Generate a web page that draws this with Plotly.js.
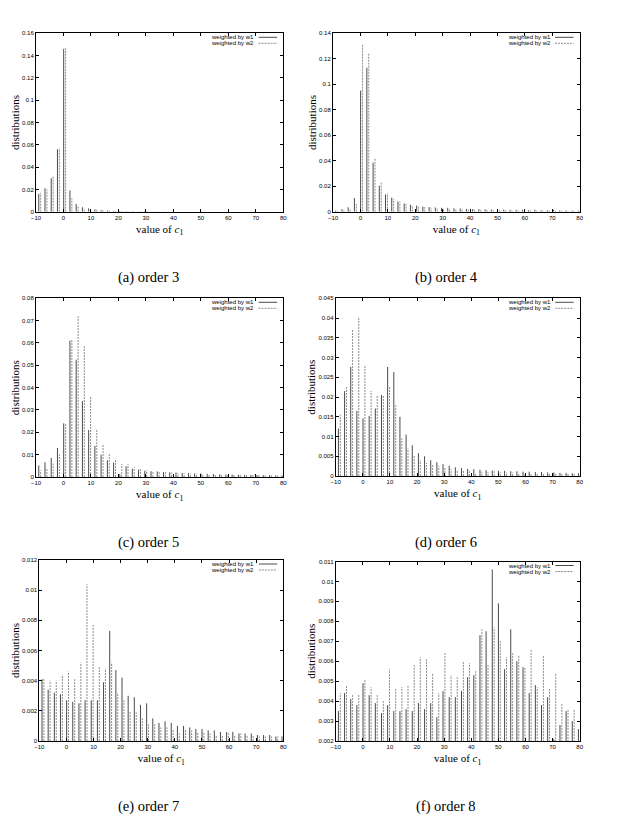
<!DOCTYPE html>
<html>
<head>
<meta charset="utf-8">
<script src="https://cdn.plot.ly/plotly-3.0.1.min.js"></script>
<style>
  html, body { margin: 0; padding: 0; background: #fff; }
  #chart { width: 618px; height: 824px; }
</style>
</head>
<body>
<div id="chart"></div>
<script>
// c1 bins, shared by all six panels
var c1 = [-9, -6.73, -4.46, -2.19, 0.08, 2.35, 4.62, 6.89, 9.16, 11.43,
          13.7, 15.97, 18.24, 20.51, 22.78, 25.05, 27.32, 29.59, 31.86, 34.13,
          36.4, 38.67, 40.94, 43.21, 45.48, 47.75, 50.02, 52.29, 54.56, 56.83,
          59.1, 61.37, 63.64, 65.91, 68.18, 70.45, 72.72, 74.99, 77.26, 79.53];

// (a) order 3
var o3_w1 = [0.016, 0.021, 0.030, 0.056, 0.146, 0.019, 0.007, 0.004, 0.003, 0.002,
             0.0015, 0.0011, 0.0008, 0.0006, 0.0005, 0.0004, 0.0003, 0.0003, 0.0002, 0.0002,
             0.0002, 0.0001, 0.0001, 0.0001, 0.0001, 0.0001, 0.0001, 0.0001, 0, 0,
             0, 0, 0, 0, 0, 0, 0, 0, 0, 0];
var o3_w2 = [0.017, 0.020, 0.032, 0.057, 0.147, 0.012, 0.005, 0.003, 0.0025, 0.002,
             0.0012, 0.0009, 0.0007, 0.0005, 0.0004, 0.0003, 0.0003, 0.0002, 0.0002, 0.0001,
             0.0001, 0.0001, 0.0001, 0.0001, 0, 0, 0, 0, 0, 0,
             0, 0, 0, 0, 0, 0, 0, 0, 0, 0];

// (b) order 4
var o4_w1 = [0.001, 0.002, 0.0035, 0.0107, 0.095, 0.113, 0.0385, 0.0204, 0.0135, 0.011,
             0.008, 0.0065, 0.0055, 0.0048, 0.004, 0.0036, 0.0033, 0.003, 0.0031, 0.0027,
             0.0025, 0.0022, 0.0021, 0.002, 0.0018, 0.0017, 0.0016, 0.0016, 0.0014, 0.0014,
             0.0013, 0.0012, 0.0015, 0.0011, 0.0011, 0.0014, 0.001, 0.0009, 0.0009, 0.0008];
var o4_w2 = [0.0005, 0.001, 0.002, 0.006, 0.131, 0.124, 0.042, 0.0233, 0.0145, 0.010,
             0.0078, 0.006, 0.005, 0.0045, 0.0036, 0.0032, 0.0028, 0.0025, 0.0023, 0.002,
             0.0019, 0.0017, 0.0016, 0.0014, 0.0013, 0.0012, 0.0012, 0.0011, 0.001, 0.001,
             0.0009, 0.0009, 0.0008, 0.0008, 0.0008, 0.0007, 0.0007, 0.0006, 0.0006, 0.0006];

// (c) order 5
var o5_w1 = [0.0052, 0.0066, 0.0085, 0.013, 0.024, 0.061, 0.0525, 0.034, 0.021, 0.014,
             0.010, 0.0075, 0.0065, 0.0013, 0.0048, 0.0037, 0.0033, 0.0028, 0.0026, 0.0025,
             0.0022, 0.0021, 0.002, 0.0018, 0.0017, 0.0016, 0.0016, 0.0014, 0.0013, 0.0012,
             0.0011, 0.0011, 0.001, 0.001, 0.0009, 0.0009, 0.0008, 0.0008, 0.0007, 0.0007];
var o5_w2 = [0.003, 0.0039, 0.006, 0.010, 0.024, 0.0615, 0.072, 0.0586, 0.036, 0.0215,
             0.0148, 0.0103, 0.0082, 0.0058, 0.0058, 0.0044, 0.0038, 0.003, 0.0027, 0.0025,
             0.0022, 0.002, 0.0018, 0.0017, 0.0016, 0.0015, 0.0014, 0.0013, 0.0012, 0.0011,
             0.001, 0.001, 0.0009, 0.0009, 0.0008, 0.0008, 0.0007, 0.0007, 0.0006, 0.0006];

// (d) order 6
var o6_w1 = [0.012, 0.0215, 0.0276, 0.0165, 0.0146, 0.0152, 0.0171, 0.0205, 0.0276, 0.0263,
             0.015, 0.0105, 0.0078, 0.0058, 0.005, 0.004, 0.0035, 0.003, 0.0026, 0.0022,
             0.002, 0.0018, 0.0017, 0.0016, 0.0015, 0.0014, 0.0013, 0.0013, 0.0012, 0.0012,
             0.0011, 0.0011, 0.001, 0.001, 0.0009, 0.0009, 0.0008, 0.0008, 0.0007, 0.0007];
var o6_w2 = [0.0155, 0.0225, 0.037, 0.0403, 0.028, 0.0215, 0.0205, 0.0205, 0.0228, 0.0179,
             0.0095, 0.007, 0.0052, 0.004, 0.0033, 0.003, 0.0025, 0.002, 0.0018, 0.0015,
             0.0014, 0.0012, 0.0008, 0.0011, 0.001, 0.0012, 0.001, 0.0009, 0.0009, 0.0008,
             0.0008, 0.0007, 0.0007, 0.0007, 0.0006, 0.0006, 0.0006, 0.0005, 0.0005, 0.0005];

// (e) order 7
var o7_w1 = [0.0041, 0.0034, 0.0032, 0.0031, 0.0027, 0.0026, 0.0025, 0.0027, 0.0027, 0.0027,
             0.0039, 0.0073, 0.0047, 0.0042, 0.0030, 0.0029, 0.0024, 0.0025, 0.0015, 0.0012,
             0.0013, 0.0012, 0.0010, 0.0010, 0.0009, 0.0008, 0.0008, 0.0007, 0.0007, 0.0006,
             0.0006, 0.0006, 0.0005, 0.0005, 0.0005, 0.0004, 0.0004, 0.0004, 0.0003, 0.0003];
var o7_w2 = [0.0041, 0.0040, 0.0040, 0.0044, 0.0046, 0.0041, 0.0052, 0.0104, 0.0077, 0.0049,
             0.0048, 0.0052, 0.0032, 0.0027, 0.0020, 0.0019, 0.0015, 0.0011, 0.0011, 0.0009,
             0.0009, 0.0008, 0.0005, 0.0008, 0.0007, 0.0006, 0.0006, 0.0005, 0.0004, 0.0004,
             0.0005, 0.0004, 0.0005, 0.0004, 0.0004, 0.0003, 0.0003, 0.0003, 0.0003, 0.0002];

// (f) order 8
var o8_w1 = [0.0035, 0.0044, 0.0041, 0.0038, 0.0049, 0.0043, 0.0039, 0.0034, 0.0038, 0.0035,
             0.0035, 0.0036, 0.0035, 0.0039, 0.0036, 0.0039, 0.0032, 0.0045, 0.0042, 0.0042,
             0.0045, 0.0052, 0.0053, 0.0073, 0.0075, 0.0106, 0.0089, 0.0056, 0.0076, 0.0060,
             0.0057, 0.0044, 0.0048, 0.0038, 0.0042, 0.0021, 0.0028, 0.0035, 0.0030, 0.0026];
var o8_w2 = [0.0044, 0.00475, 0.0043, 0.0043, 0.0051, 0.0047, 0.0043, 0.0040, 0.0056, 0.0046,
             0.0047, 0.0048, 0.0058, 0.0062, 0.0061, 0.0054, 0.0044, 0.0064, 0.0053, 0.0052,
             0.0060, 0.0059, 0.0055, 0.0076, 0.0058, 0.0077, 0.0070, 0.0062, 0.0064, 0.0063,
             0.0057, 0.0066, 0.0047, 0.0063, 0.0046, 0.0054, 0.0039, 0.0036, 0.0036, 0.0030];

var captions = ['(a) order 3', '(b) order 4', '(c) order 5', '(d) order 6', '(e) order 7', '(f) order 8'];
var series = [[o3_w1, o3_w2], [o4_w1, o4_w2], [o5_w1, o5_w2],
              [o6_w1, o6_w2], [o7_w1, o7_w2], [o8_w1, o8_w2]];
var yMin = [0, 0, 0, 0, 0, 0.002];
var yMax = [0.16, 0.14, 0.08, 0.045, 0.012, 0.011];
var yStep = [0.02, 0.02, 0.01, 0.005, 0.002, 0.001];

var W = 618, H = 824;
// plot frames in pixels: left, right, top, bottom
var frames = [
    [36, 283.3, 33.3, 211.7], [333, 579.7, 33.3, 211.7],
    [36, 283.3, 298.3, 477], [335.7, 579.7, 298.3, 476],
    [39.3, 283.3, 560, 741], [335.7, 579.7, 561.5, 741]
];
var captionY = [277, 277, 542, 542, 806, 806];

var PAIR_GAP = 0.7;   // w2 impulse sits just right of w1
var serif = "'Liberation Serif', 'DejaVu Serif', serif";
var sans = "'Liberation Sans', 'DejaVu Sans', sans-serif";

function impulses(xv, yv, shift) {
    var x = [], y = [];
    for (var i = 0; i < xv.length; i++) {
        x.push(xv[i] + shift, xv[i] + shift, null);
        y.push(0, yv[i], null);
    }
    return [x, y];
}

var data = [];
var layout = {
    width: W, height: H,
    margin: {l: 0, r: 0, t: 0, b: 0},
    paper_bgcolor: '#fff', plot_bgcolor: '#fff',
    showlegend: false,
    annotations: [],
    shapes: []
};

for (var p = 0; p < 6; p++) {
    var n = p === 0 ? '' : String(p + 1);
    var f = frames[p];
    var xd = [f[0] / W, f[1] / W];
    var yd = [1 - f[3] / H, 1 - f[2] / H];

    var a = impulses(c1, series[p][0], 0);
    var b = impulses(c1, series[p][1], PAIR_GAP);
    data.push({
        type: 'scatter', mode: 'lines', x: a[0], y: a[1],
        xaxis: 'x' + n, yaxis: 'y' + n, name: 'weighted by w1',
        line: {color: '#4a4a4a', width: 1}, hoverinfo: 'skip'
    });
    data.push({
        type: 'scatter', mode: 'lines', x: b[0], y: b[1],
        xaxis: 'x' + n, yaxis: 'y' + n, name: 'weighted by w2',
        line: {color: '#8c8c8c', width: 1, dash: '2px,1px'}, hoverinfo: 'skip'
    });

    var common = {
        ticks: 'inside', ticklen: 3, tickwidth: 1, tickcolor: '#000',
        showline: true, linecolor: '#000', linewidth: 1, mirror: 'ticks',
        showgrid: false, zeroline: false, fixedrange: true, automargin: false,
        tickfont: {family: sans, size: 6, color: '#000'}
    };
    layout['xaxis' + n] = Object.assign({}, common, {
        domain: xd, anchor: 'y' + n, range: [-10, 80], tick0: 0, dtick: 10,
        title: {text: 'value of <i>c</i><sub>1</sub>', standoff: 5,
                font: {family: serif, size: 11, color: '#000'}}
    });
    layout['yaxis' + n] = Object.assign({}, common, {
        domain: yd, anchor: 'x' + n, range: [yMin[p], yMax[p]], tick0: 0, dtick: yStep[p],
        title: {text: 'distributions', standoff: 0,
                font: {family: serif, size: 11, color: '#000'}}
    });

    layout.annotations.push({
        text: captions[p], xref: 'paper', yref: 'paper',
        x: (p % 2 === 0 ? 148 : 446) / W, y: 1 - captionY[p] / H,
        xanchor: 'center', yanchor: 'middle', showarrow: false,
        font: {family: serif, size: 14.5, color: '#000'}
    });

    // key in the top right corner, gnuplot style: text then sample
    var keyRight = f[1] - 0.11 * (f[1] - f[0]);
    var sample = [f[1] - 0.1 * (f[1] - f[0]), f[1] - 0.025 * (f[1] - f[0])];
    var keys = [['weighted by w1', f[2] + 4, '#4a4a4a', 'solid'],
                ['weighted by w2', f[2] + 10, '#8c8c8c', '2px,1px']];
    keys.forEach(function (k) {
        layout.annotations.push({
            text: k[0], xref: 'paper', yref: 'paper',
            x: keyRight / W, y: 1 - k[1] / H, xanchor: 'right', yanchor: 'middle',
            showarrow: false, font: {family: sans, size: 6, color: '#000'}
        });
        layout.shapes.push({
            type: 'line', xref: 'paper', yref: 'paper',
            x0: sample[0] / W, x1: sample[1] / W, y0: 1 - k[1] / H, y1: 1 - k[1] / H,
            line: {color: k[2], width: 1, dash: k[3]}
        });
    });
}

Plotly.newPlot('chart', data, layout, {staticPlot: true, displayModeBar: false});
</script>
</body>
</html>
